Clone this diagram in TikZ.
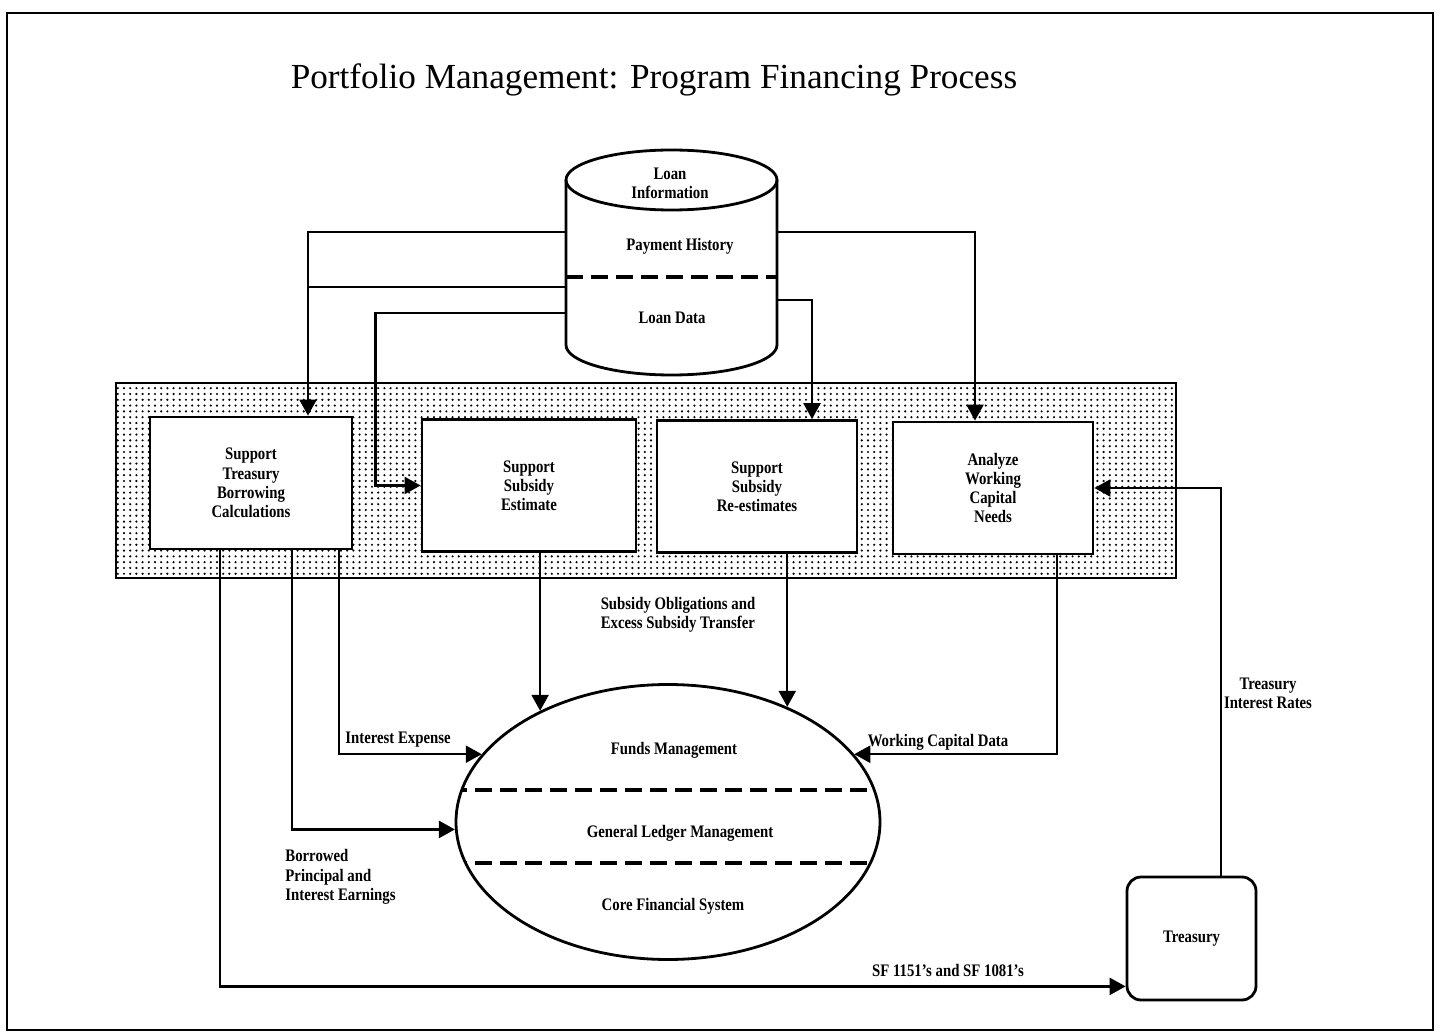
\documentclass[tikz,border=0pt]{standalone}
\usepackage{fontspec}
\setmainfont{Liberation Serif}
\newfontfamily\lblfont[FakeStretch=0.84]{Liberation Serif}
\usetikzlibrary{calc,arrows.meta,patterns,shapes.geometric}
%% coarser dots for the shaded band
\pgfdeclarepatternformonly{banddots}{\pgfqpoint{-1pt}{-1pt}}{\pgfqpoint{1pt}{1pt}}{\pgfqpoint{3.1pt}{2.9pt}}{%
  \pgfpathcircle{\pgfqpoint{0pt}{0pt}}{.6pt}\pgfusepath{fill}}

\begin{document}
\begin{tikzpicture}[x=0.5pt,y=-0.5pt,
    lbl/.style={font=\lblfont\bfseries\fontsize{8.8}{9.6}\selectfont,inner sep=0pt},
    procbox/.style={draw,line width=1.4pt,fill=white,align=center,minimum height=66pt},
    flow/.style={line width=1.2pt,-{Triangle[length=8pt,width=8.5pt]}},
    link/.style={line width=1.2pt},
    sep/.style={line width=2pt,dash pattern=on 8.5pt off 4pt}]

  %%%% Frame and title %%%%
  \useasboundingbox (0,0) rectangle (1441,1032);
  \draw[line width=1pt] (7,13) rectangle (1433,1030);
  \node[font=\fontsize{17.6}{20}\selectfont] (title) at (654,80) {Portfolio Management: Program Financing Process};

  %%%% Loan information store %%%%
  \draw[line width=1.4pt] (566,180) -- (566,345)
    arc[start angle=180,end angle=360,x radius=52.75pt,y radius=15pt] -- (777,180);
  \draw[line width=1.4pt] (671.5,180) ellipse[x radius=52.75pt,y radius=15pt];
  \draw[sep] (566,277) -- (777,277);
  \node[lbl,align=center] (dbinfo) at (670,183) {Loan\\Information};
  \node[lbl] (dbhist) at (680,246) {Payment History};
  \node[lbl] (dbdata) at (672,318) {Loan Data};
  %% Coordinates on the sides of the store
  \coordinate (db-ph-w) at (566,232);
  \coordinate (db-ld-w) at (566,287);
  \coordinate (db-est-w) at (566,313);
  \coordinate (db-ph-e) at (777,232);
  \coordinate (db-ld-e) at (777,300);

  %%%% Shaded band with the four processes %%%%
  \draw[line width=1.4pt,pattern=banddots] (116,383) rectangle (1176,578);
  \foreach \nm/\xc/\yc/\bw/\txt in {
      tbc/251/483/101/{Support\\Treasury\\Borrowing\\Calculations},
      sse/529/485.5/107/{Support\\Subsidy\\Estimate},
      ssr/757/486.5/100/{Support\\Subsidy\\Re-estimates},
      awc/993/488/100/{Analyze\\Working\\Capital\\Needs}}{
    \node[procbox,lbl,minimum width=\bw pt] (\nm) at (\xc,\yc) {\txt};
  }

  %%%% Financial system %%%%
  \node[draw,ellipse,line width=1.4pt,minimum width=212pt,minimum height=137.5pt,inner sep=0pt] (gl) at (668,822) {};
  \begin{scope}
    \clip (668,822) ellipse[x radius=106pt,y radius=68.75pt];
    \draw[sep] (450,790) -- (890,790);
    \draw[sep] (450,863) -- (890,863);
  \end{scope}
  \node[lbl] (fm) at (674,750) {Funds Management};
  \node[lbl] (glm) at (680,833) {General Ledger Management};
  \node[lbl] (cfs) at (673,906) {Core Financial System};

  %% Treasury
  \node[draw,rounded corners=7pt,line width=1.4pt,minimum width=64.5pt,minimum height=61.5pt,lbl] (trs) at (1191.5,938.5) {Treasury};

  %%%% Flows %%%%
  \coordinate (tbc-in) at ($(tbc.north)+(57,0)$);
  \draw[flow] (db-ph-w) -| (tbc-in);
  \draw[link] (db-ld-w) -- (db-ld-w -| tbc-in);
  \draw[flow] (db-est-w) -| ($(sse.west)+(-45,0)$) -- (sse.west);
  \draw[flow] (db-ph-e) -| ($(awc.north)+(-18,0)$);
  \draw[flow] (db-ld-e) -| ($(ssr.north)+(55,0)$);
  \draw[flow] ($(trs.north)+(29.5,0)$) |- (awc.east);
  \draw[flow] (sse.south -| gl.139) -- (gl.139);
  \draw[flow] (ssr.south -| gl.44) -- (gl.44);
  \draw[flow] ($(tbc.south)+(88,0)$) |- (gl.160);
  \draw[flow] ($(tbc.south)+(41,0)$) |- (gl.182);
  \draw[flow] ($(tbc.south)+(-31,0)$) |- ($(trs.south west)+(0,-15)$);
  \draw[flow] ($(awc.south)+(64,0)$) |- (gl.20);

  %% Labels on the flows
  \node[lbl,align=left] (sub-lbl) at (678,615) {Subsidy Obligations and\\Excess Subsidy Transfer};
  \node[lbl] (ie-lbl) at (398,740) {Interest Expense};
  \node[lbl,align=left,anchor=west] (bp-lbl) at (285,877) {Borrowed\\Principal and\\Interest Earnings};
  \node[lbl] (wc-lbl) at (938,742) {Working Capital Data};
  \node[lbl,align=center] (ti-lbl) at (1268,693) {Treasury\\Interest Rates};
  \node[lbl] (sf-lbl) at (948,970) {SF 1151’s and SF 1081’s};
\end{tikzpicture}
\end{document}
